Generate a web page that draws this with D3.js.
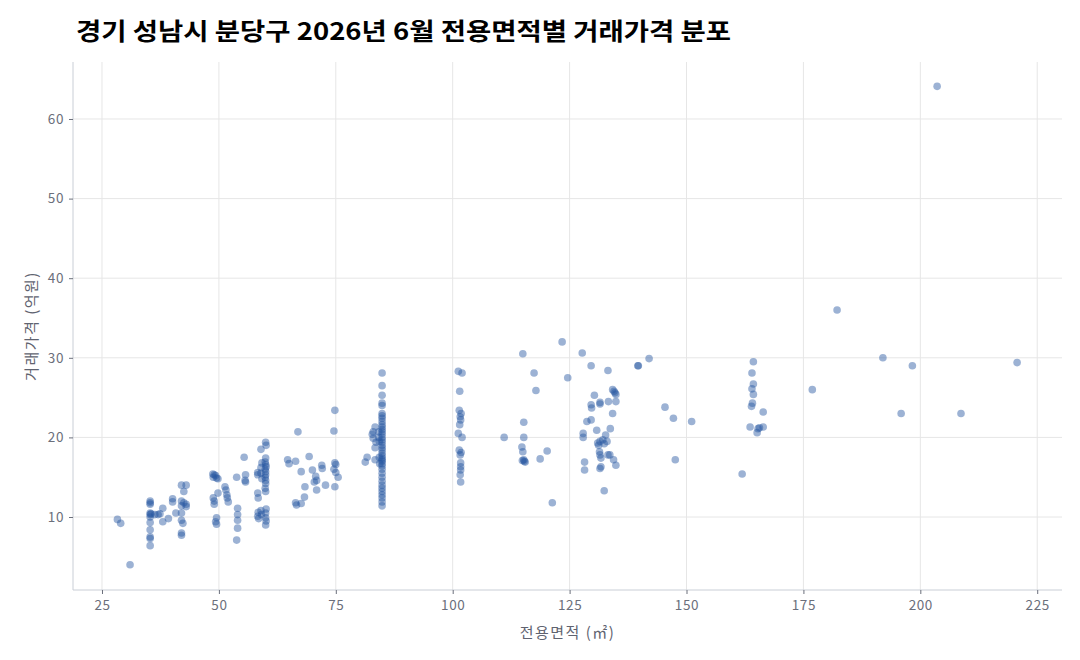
<!DOCTYPE html>
<html>
<head>
<meta charset="utf-8">
<script src="https://cdn.jsdelivr.net/npm/d3@7"></script>
<style>
  body { margin: 0; background: #fff; }
  svg text { font-family: "Noto Sans CJK KR", "Noto Sans", sans-serif; }
</style>
</head>
<body>
<div id="chart"></div>
<script>
// trades: [area m², price 억원]
const smallUnits = [
  [28.3, 9.7], [29.0, 9.2], [31.0, 4.0],
  [35.3, 12.0], [35.3, 11.8], [35.3, 11.6], [35.3, 10.5], [35.3, 10.3], [35.3, 10.0], [35.3, 9.3],
  [35.3, 8.4], [35.3, 7.5], [35.3, 7.3], [35.3, 6.4], [35.5, 10.4],
  [36.3, 10.3], [37.0, 10.3], [37.4, 10.4], [38.0, 11.1], [38.0, 9.4], [39.2, 9.8],
  [40.1, 12.3], [40.1, 11.9], [40.8, 10.5],
  [42.0, 14.0], [43.0, 14.0], [42.5, 13.2], [42.0, 12.0], [42.5, 11.8], [43.0, 11.6], [42.0, 11.4],
  [43.0, 11.3], [42.0, 10.5], [42.0, 9.6], [42.3, 9.2], [42.0, 8.0], [42.0, 7.7],
  [48.7, 15.4], [49.0, 15.3], [49.3, 15.2], [48.8, 15.0], [49.5, 14.9], [49.8, 14.8],
  [48.8, 12.4], [49.0, 12.0], [49.0, 11.6], [49.5, 9.9], [49.3, 9.4], [49.5, 9.1], [49.8, 13.0],
  [51.3, 13.8], [51.5, 13.4], [51.7, 12.8], [51.8, 12.4], [52.0, 11.9],
  [53.8, 15.0], [54.0, 11.1], [54.0, 10.3], [54.0, 9.6], [54.0, 8.6], [53.8, 7.1],
  [55.4, 17.5], [55.7, 15.3], [55.6, 14.6], [55.7, 14.4]
];

const midUnits = [
  [60.0, 19.4], [60.1, 19.0], [60.0, 17.4], [59.9, 16.9], [60.0, 16.6], [60.1, 16.3], [59.9, 16.0],
  [60.0, 15.7], [60.0, 15.3], [59.9, 15.0], [60.0, 14.6], [60.0, 14.2], [59.9, 13.6], [60.0, 13.2],
  [60.1, 11.0], [60.0, 10.5], [60.0, 9.9], [60.1, 9.5], [60.0, 9.0],
  [59.0, 18.5], [59.2, 16.8], [59.0, 16.2], [59.0, 15.5], [59.2, 14.8], [59.0, 10.8], [59.1, 10.3],
  [58.3, 15.6], [58.3, 15.3], [58.3, 13.0], [58.4, 12.4], [58.4, 10.6], [58.3, 10.1], [58.5, 9.8],
  [64.7, 17.2], [65.0, 16.7], [66.4, 17.0], [66.9, 20.7], [67.6, 15.7], [69.3, 17.6], [70.0, 15.9],
  [68.4, 13.8], [68.3, 12.5], [66.6, 11.5], [67.6, 11.7], [66.4, 11.8],
  [70.7, 15.1], [70.9, 14.6], [70.4, 14.4], [70.9, 13.4], [72.0, 16.5], [72.1, 16.1], [72.8, 14.0],
  [74.8, 16.8], [75.0, 16.6], [74.6, 16.0], [75.0, 15.6], [75.5, 15.0], [74.8, 13.8],
  [74.6, 20.8], [74.8, 23.4],
  [81.3, 16.9], [81.7, 17.5], [83.4, 21.3], [83.0, 20.7], [83.0, 19.9], [83.4, 18.7], [83.4, 17.2],
  [82.8, 20.4], [83.6, 19.4], [84.2, 20.7], [84.2, 20.0], [84.3, 19.5], [84.3, 17.5], [84.4, 16.7],
  [84.9, 28.1], [84.9, 26.5], [84.9, 25.3], [84.9, 24.3], [84.9, 24.0], [84.9, 23.0], [84.9, 22.7],
  [84.9, 22.4], [84.9, 22.0], [84.9, 21.6], [84.9, 21.3], [84.9, 21.0], [84.9, 20.7], [84.9, 20.4],
  [84.9, 20.0], [84.9, 19.7], [84.9, 19.4], [84.9, 19.0], [84.9, 18.7], [84.9, 18.4], [84.9, 18.0],
  [84.9, 17.7], [84.9, 17.4], [84.9, 17.2], [84.9, 17.0], [84.9, 16.7], [84.9, 16.4], [84.9, 16.0],
  [84.9, 15.5], [84.9, 15.0], [84.9, 14.5], [84.9, 14.0], [84.9, 13.6], [84.9, 13.2], [84.9, 12.8],
  [84.9, 12.4], [84.9, 11.9], [84.9, 11.4]
];

const largeUnits = [
  [101.2, 28.3], [102.0, 28.1], [101.5, 25.8], [101.4, 23.4], [101.8, 23.0], [101.6, 22.6],
  [101.7, 22.2], [101.5, 21.6], [101.2, 20.5], [102.0, 20.0], [101.4, 18.4], [101.8, 18.1],
  [101.6, 17.8], [101.7, 16.8], [101.7, 16.3], [101.7, 15.9], [101.6, 15.3], [101.7, 14.4],
  [111.0, 20.0], [115.0, 30.5], [115.2, 21.9], [115.2, 20.0], [114.8, 18.8], [115.0, 18.2],
  [115.2, 17.2], [115.3, 17.0], [115.5, 16.9], [114.9, 17.1],
  [117.4, 28.1], [117.8, 25.9], [118.7, 17.3], [120.2, 18.3], [121.3, 11.8],
  [123.4, 32.0], [124.6, 27.5], [127.7, 30.6], [129.6, 29.0], [133.2, 28.4], [139.6, 29.0],
  [139.7, 29.0], [142.0, 29.9],
  [134.2, 26.0], [134.5, 25.8], [134.7, 25.6], [134.9, 25.4], [134.9, 24.5], [133.3, 24.5],
  [130.3, 25.3], [131.5, 24.4], [131.5, 24.2], [129.6, 24.1], [129.7, 23.7], [134.2, 23.0],
  [128.7, 22.0], [129.6, 22.2], [130.8, 20.9], [133.7, 21.1], [127.9, 20.5], [127.9, 20.0],
  [132.7, 20.3], [132.1, 19.7], [131.5, 19.5], [133.0, 19.5], [131.0, 19.3], [132.4, 19.2],
  [131.2, 19.0], [131.4, 18.2], [131.5, 17.8], [131.7, 17.4], [133.2, 17.8], [134.4, 17.2],
  [134.9, 16.5], [131.7, 16.3], [131.5, 16.1], [128.2, 16.9], [128.2, 15.9], [132.4, 13.3],
  [133.6, 17.8],
  [145.4, 23.8], [147.2, 22.4], [151.1, 22.0], [147.6, 17.2],
  [161.9, 15.4], [164.3, 29.5], [164.0, 28.1], [164.3, 26.7], [164.0, 26.1], [164.3, 25.4],
  [164.1, 24.3], [163.9, 23.9], [166.4, 23.2], [163.6, 21.3], [166.4, 21.3], [165.3, 21.1],
  [165.1, 20.6], [165.6, 21.2],
  [176.9, 26.0], [182.2, 36.0], [192.0, 30.0], [195.9, 23.0], [198.3, 29.0], [203.6, 64.1],
  [208.7, 23.0], [220.7, 29.4]
];

const xTicks = [25, 50, 75, 100, 125, 150, 175, 200, 225];
const yTicks = [10, 20, 30, 40, 50, 60];

const titleText = "경기 성남시 분당구 2026년 6월 전용면적별 거래가격 분포";
const xTitle = "전용면적 (㎡)";
const yTitle = "거래가격 (억원)";

const width = 1080, height = 660;
const panel = {left: 73, right: 1062, top: 62, bottom: 590};

const svg = d3.select("#chart").append("svg")
  .attr("width", width)
  .attr("height", height);

const x = d3.scaleLinear().domain([18.8, 230.3]).range([panel.left, panel.right]);
const y = d3.scaleLinear().domain([0.83, 67.16]).range([panel.bottom, panel.top]);

// grid
svg.append("g").selectAll("line.gx")
  .data(xTicks).enter().append("line")
  .attr("x1", d => x(d)).attr("x2", d => x(d))
  .attr("y1", panel.top).attr("y2", panel.bottom)
  .attr("stroke", "#e6e6e6").attr("stroke-width", 1);

svg.append("g").selectAll("line.gy")
  .data(yTicks).enter().append("line")
  .attr("x1", panel.left).attr("x2", panel.right)
  .attr("y1", d => y(d)).attr("y2", d => y(d))
  .attr("stroke", "#e6e6e6").attr("stroke-width", 1);

// axes
const xAxis = svg.append("g")
  .attr("transform", `translate(0,${panel.bottom})`)
  .call(d3.axisBottom(x).tickValues(xTicks).tickSize(4).tickPadding(6).tickSizeOuter(0));
const yAxis = svg.append("g")
  .attr("transform", `translate(${panel.left},0)`)
  .call(d3.axisLeft(y).tickValues(yTicks).tickSize(4).tickPadding(5).tickSizeOuter(0));

[xAxis, yAxis].forEach(g => {
  g.select(".domain").attr("stroke", "#c9ced6");
  g.selectAll(".tick line").attr("stroke", "#6b6f7b");
  g.selectAll(".tick text")
    .attr("fill", "#6b6f7b")
    .style("font-size", "13.5px")
    .style("letter-spacing", "0.6px");
});
xAxis.select(".domain").attr("d", `M${panel.left},0H${panel.right}`);
yAxis.select(".domain").attr("d", `M0,${panel.top}V${panel.bottom}`);

// points
const allTrades = smallUnits.concat(midUnits, largeUnits);
svg.append("g").selectAll("circle")
  .data(allTrades).enter().append("circle")
  .attr("cx", d => x(d[0]))
  .attr("cy", d => y(d[1]))
  .attr("r", 3.8)
  .attr("fill", "#2454a0")
  .attr("fill-opacity", 0.45);

// titles
svg.append("text")
  .attr("x", 76).attr("y", 40)
  .attr("fill", "#000")
  .attr("textLength", 655)
  .attr("lengthAdjust", "spacingAndGlyphs")
  .style("font-size", "24px")
  .style("font-weight", "bold")
  .text(titleText);

svg.append("text")
  .attr("x", (panel.left + panel.right) / 2).attr("y", 638)
  .attr("text-anchor", "middle")
  .attr("fill", "#5f6370")
  .style("font-size", "15px")
  .style("letter-spacing", "1.5px")
  .text(xTitle);

svg.append("text")
  .attr("transform", `translate(37,${(panel.top + panel.bottom) / 2}) rotate(-90)`)
  .attr("text-anchor", "middle")
  .attr("fill", "#5f6370")
  .style("font-size", "15px")
  .style("letter-spacing", "1.5px")
  .text(yTitle);
</script>
</body>
</html>
